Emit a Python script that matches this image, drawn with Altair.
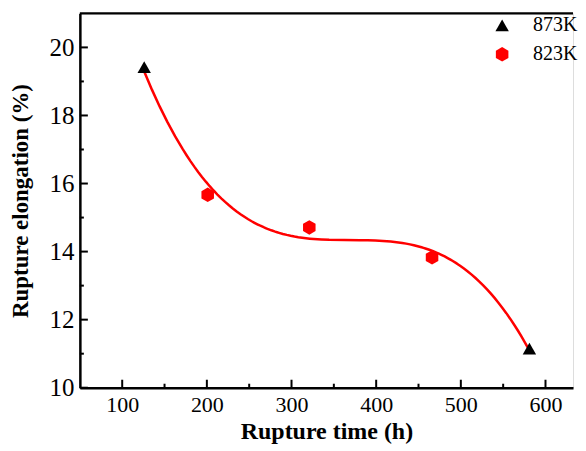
import altair as alt
import pandas as pd

# data
series = ["873K", "823K", "823K", "823K", "873K"]
time_h = [126, 201, 321, 466, 581]
elong = [19.42, 15.67, 14.71, 13.83, 11.15]

x_major = [100, 200, 300, 400, 500, 600]
x_minor = [150, 250, 350, 450, 550]
y_major = [10, 12, 14, 16, 18, 20]
y_minor = [11, 13, 15, 17, 19]

df = pd.DataFrame({"series": series, "t": time_h, "e": elong})

W, H = 494, 375
XDOM = [50, 632.5]
YDOM = [10, 21]
FONT = "Liberation Serif"

xs = alt.Scale(domain=XDOM, nice=False, zero=False)
ys = alt.Scale(domain=YDOM, nice=False, zero=False)

hexpath = "M0,-1L0.866,-0.5L0.866,0.5L0,1L-0.866,0.5L-0.866,-0.5Z"

base = alt.Chart(df)

curve = base.transform_regression("t", "e", method="poly", order=3).mark_line(
    color="#ff0000", strokeWidth=2.5
).encode(
    x=alt.X("t:Q", scale=xs, axis=alt.Axis(
        values=x_major, ticks=False, domainColor="black", domainWidth=2.5,
        labelFont=FONT, labelFontSize=22, labelColor="black", labelPadding=7,
        title="Rupture time (h)", titleFont=FONT, titleFontSize=24,
        titleFontWeight="bold", titleColor="black", titlePadding=4, grid=False)),
    y=alt.Y("e:Q", scale=ys, axis=alt.Axis(
        values=y_major, ticks=False, domainColor="black", domainWidth=2.5,
        labelFont=FONT, labelFontSize=25, labelColor="black", labelPadding=6,
        title="Rupture elongation (%)", titleFont=FONT, titleFontSize=23,
        titleFontWeight="bold", titleColor="black", titlePadding=16, grid=False)),
)

points = base.mark_point(filled=True, opacity=1).encode(
    x=alt.X("t:Q", scale=xs),
    y=alt.Y("e:Q", scale=ys),
    color=alt.Color("series:N", scale=alt.Scale(domain=["873K", "823K"], range=["black", "#ff0000"]),
                    legend=alt.Legend(title=None, orient="none", legendX=413, legendY=2,
                                      padding=0, symbolSize=190,
                                      labelFont=FONT, labelFontSize=20, labelColor="black",
                                      symbolStrokeWidth=0, rowPadding=9,
                                      labelOffset=21)),
    shape=alt.Shape("series:N", scale=alt.Scale(domain=["873K", "823K"], range=["triangle-up", hexpath]),
                    legend=None),
    size=alt.Size("series:N", scale=alt.Scale(domain=["873K", "823K"], range=[180, 210]),
                  legend=None),
)

xmaj = alt.Chart(pd.DataFrame({"v": x_major})).mark_rule(color="black", strokeWidth=2).encode(
    x=alt.X("v:Q", scale=xs), y=alt.value(H), y2=alt.value(H - 8))
xmin = alt.Chart(pd.DataFrame({"v": x_minor})).mark_rule(color="black", strokeWidth=2).encode(
    x=alt.X("v:Q", scale=xs), y=alt.value(H), y2=alt.value(H - 4))
ymaj = alt.Chart(pd.DataFrame({"v": y_major})).mark_rule(color="black", strokeWidth=2).encode(
    y=alt.Y("v:Q", scale=ys), x=alt.value(0), x2=alt.value(8))
ymin = alt.Chart(pd.DataFrame({"v": y_minor})).mark_rule(color="black", strokeWidth=2).encode(
    y=alt.Y("v:Q", scale=ys), x=alt.value(0), x2=alt.value(4))
topline = alt.Chart(pd.DataFrame({"v": [0]})).mark_rule(color="black", strokeWidth=2.5).encode(
    y=alt.value(0), x=alt.value(0), x2=alt.value(W))

chart = alt.layer(curve, points, xmaj, xmin, ymaj, ymin, topline).properties(
    width=W, height=H, padding={"left": 2, "top": 3, "right": 0, "bottom": 0}
).configure_view(stroke=None).configure(background="white")

chart.save("out.html", embed_options={"renderer": "svg", "actions": False})
